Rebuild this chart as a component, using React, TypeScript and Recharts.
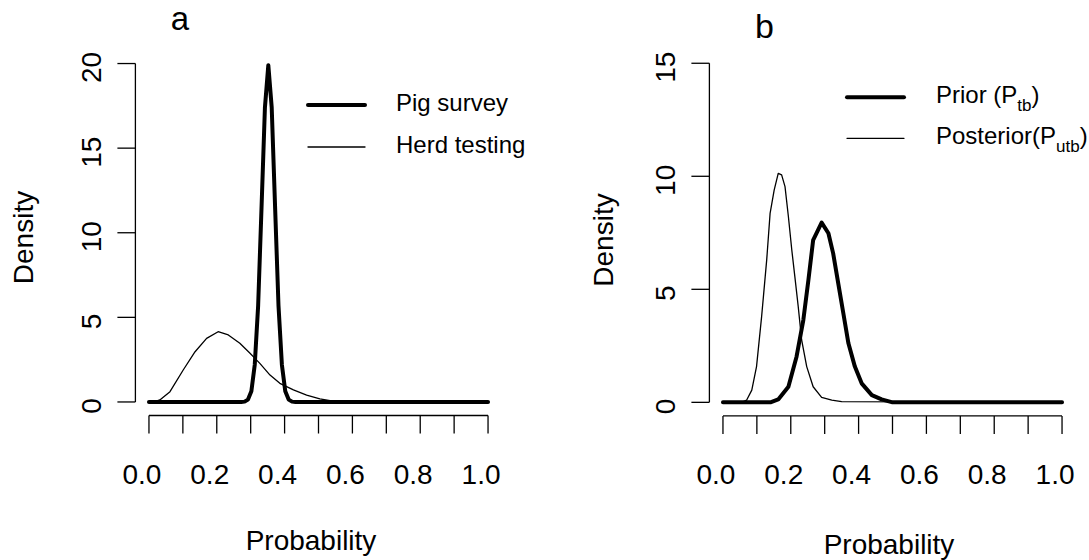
import { LineChart, Line, XAxis, YAxis, ReferenceLine, Legend } from "recharts";

const FONT = '"Liberation Sans", Arial, Helvetica, sans-serif';

// shared x axis
const X_TICKS = [0, 0.1, 0.2, 0.3, 0.4, 0.5, 0.6, 0.7, 0.8, 0.9, 1.0];
const X_TICK_LABELS = ["0.0", "", "0.2", "", "0.4", "", "0.6", "", "0.8", "", "1.0"];

// panel a
const A_Y_TICKS = [0, 5, 10, 15, 20];
const PIG_PROB = [0, 0.272, 0.282, 0.292, 0.302, 0.312, 0.322, 0.332, 0.342, 0.352, 0.362, 0.372, 0.382, 0.392, 0.402, 0.412, 0.422, 0.432, 1.0];
const PIG_DENSITY = [0, 0, 0.02, 0.14, 0.63, 2.2, 5.7, 11.5, 17.4, 19.9, 17.4, 11.5, 5.7, 2.2, 0.63, 0.14, 0.02, 0, 0];
const HERD_PROB = [0, 0.015, 0.032, 0.062, 0.101, 0.136, 0.17, 0.204, 0.234, 0.268, 0.298, 0.327, 0.357, 0.386, 0.426, 0.465, 0.504, 0.534, 0.57, 1.0];
const HERD_DENSITY = [0, 0.01, 0.12, 0.61, 1.89, 2.97, 3.76, 4.15, 3.96, 3.47, 2.88, 2.28, 1.59, 1.1, 0.71, 0.41, 0.18, 0.08, 0.01, 0];

// panel b
const B_Y_TICKS = [0, 5, 10, 15];
const PRIOR_PROB = [0, 0.14, 0.163, 0.193, 0.217, 0.237, 0.252, 0.266, 0.291, 0.311, 0.325, 0.34, 0.355, 0.37, 0.389, 0.409, 0.439, 0.468, 0.5, 1.0];
const PRIOR_DENSITY = [0, 0, 0.13, 0.69, 2.02, 3.64, 5.41, 7.18, 7.95, 7.48, 6.59, 5.26, 3.94, 2.61, 1.58, 0.84, 0.32, 0.13, 0, 0];
const POST_PROB = [0, 0.055, 0.07, 0.085, 0.099, 0.114, 0.129, 0.139, 0.151, 0.163, 0.173, 0.183, 0.193, 0.203, 0.212, 0.222, 0.232, 0.247, 0.266, 0.291, 0.321, 0.35, 1.0];
const POST_DENSITY = [0, 0, 0.1, 0.54, 1.58, 3.79, 6.3, 8.36, 9.39, 10.13, 10.06, 9.54, 8.21, 6.74, 5.56, 4.23, 2.76, 1.58, 0.69, 0.22, 0.1, 0.03, 0];

const toPoints = (xs: number[], ys: number[]) => xs.map((x, i) => ({ x, y: ys[i] }));

const THICK = 4;
const THIN = 1.3;

const XTick = (props: any) => {
  const { x, y, payload } = props;
  const label = X_TICK_LABELS[X_TICKS.indexOf(payload.value)];
  if (!label) return null;
  return (
    <text x={x - 7} y={y + 48.5} textAnchor="middle" fontSize={28} fontFamily={FONT} fill="#000">
      {label}
    </text>
  );
};

const YTick = (props: any) => {
  const { x, y, payload } = props;
  const bx = x - 14;
  const cy = y + 4;
  return (
    <text
      x={bx}
      y={cy}
      transform={`rotate(-90 ${bx} ${cy})`}
      textAnchor="middle"
      fontSize={28}
      fontFamily={FONT}
      fill="#000"
    >
      {payload.value}
    </text>
  );
};

interface LegendItem {
  label: string;
  sub?: string;
  tail?: string;
  strokeWidth: number;
  lineY: number;
  textY: number;
}

function LegendBox({ items, x1, x2, textX }: { items: LegendItem[]; x1: number; x2: number; textX: number }) {
  return (
    <svg width={260} height={90} style={{ overflow: "visible", display: "block" }}>
      {items.map((it) => (
        <g key={it.label}>
          <line x1={x1} x2={x2} y1={it.lineY} y2={it.lineY} stroke="#000" strokeWidth={it.strokeWidth} strokeLinecap="round" />
          <text x={textX} y={it.textY} fontSize={24} fontFamily={FONT} fill="#000">
            {it.label}
            {it.sub ? (
              <tspan dy={8} fontSize={17}>
                {it.sub}
              </tspan>
            ) : null}
            {it.tail ? <tspan dy={-8}>{it.tail}</tspan> : null}
          </text>
        </g>
      ))}
    </svg>
  );
}

interface Series {
  name: string;
  data: { x: number; y: number }[];
  strokeWidth: number;
}

function Panel(props: {
  left: number;
  width: number;
  margin: { top: number; right: number; bottom: number; left: number };
  yTicks: number[];
  series: Series[];
  legendLeft: number;
  legendTop: number;
  legend: React.ReactNode;
}) {
  const { left, width, margin, yTicks, series, legendLeft, legendTop, legend } = props;
  const yMax = yTicks[yTicks.length - 1];
  const pad = yMax * 0.04;
  const tickLine = { stroke: "#000", strokeWidth: 1.3 };
  return (
    <div style={{ position: "absolute", left, top: 0 }}>
      <LineChart width={width} height={560} margin={margin}>
        <XAxis
          type="number"
          dataKey="x"
          domain={[-0.04, 1.04]}
          ticks={X_TICKS}
          interval={0}
          axisLine={false}
          tickLine={tickLine}
          tickSize={18}
          tick={(p: any) => <XTick {...p} />}
          height={60}
          allowDataOverflow
        />
        <YAxis
          type="number"
          domain={[-pad, yMax + pad]}
          ticks={yTicks}
          interval={0}
          axisLine={false}
          tickLine={tickLine}
          tickSize={18}
          tick={(p: any) => <YTick {...p} />}
          width={60}
          allowDataOverflow
        />
        <ReferenceLine
          segment={[{ x: 0, y: -pad }, { x: 1, y: -pad }]}
          stroke="#000"
          strokeWidth={1.3}
          ifOverflow="visible"
        />
        <ReferenceLine
          segment={[{ x: -0.04, y: 0 }, { x: -0.04, y: yMax }]}
          stroke="#000"
          strokeWidth={1.3}
          ifOverflow="visible"
        />
        {series.map((s) => (
          <Line
            key={s.name}
            name={s.name}
            data={s.data}
            dataKey="y"
            type="linear"
            stroke="#000"
            strokeWidth={s.strokeWidth}
            strokeLinecap="round"
            strokeLinejoin="round"
            dot={false}
            activeDot={false}
            isAnimationActive={false}
          />
        ))}
        <Legend
          layout="vertical"
          align="center"
          verticalAlign="middle"
          wrapperStyle={{ left: legendLeft, top: legendTop, width: 260, height: 90 }}
          content={() => legend}
        />
      </LineChart>
    </div>
  );
}

export default function App() {
  const seriesA: Series[] = [
    { name: "Herd testing", data: toPoints(HERD_PROB, HERD_DENSITY), strokeWidth: THIN },
    { name: "Pig survey", data: toPoints(PIG_PROB, PIG_DENSITY), strokeWidth: THICK },
  ];
  const seriesB: Series[] = [
    { name: "Posterior", data: toPoints(POST_PROB, POST_DENSITY), strokeWidth: THIN },
    { name: "Prior", data: toPoints(PRIOR_PROB, PRIOR_DENSITY), strokeWidth: THICK },
  ];

  const legendA = (
    <LegendBox
      x1={8}
      x2={65}
      textX={96}
      items={[
        { label: "Pig survey", strokeWidth: THICK, lineY: 25, textY: 31 },
        { label: "Herd testing", strokeWidth: THIN, lineY: 67, textY: 72.5 },
      ]}
    />
  );
  const legendB = (
    <LegendBox
      x1={7}
      x2={64}
      textX={96}
      items={[
        { label: "Prior (P", sub: "tb", tail: ")", strokeWidth: THICK, lineY: 17.3, textY: 23.3 },
        { label: "Posterior(P", sub: "utb", tail: ")", strokeWidth: THIN, lineY: 58.3, textY: 64 },
      ]}
    />
  );

  return (
    <div style={{ position: "absolute", left: 0, top: 0, width: 1089, height: 560, background: "#fff", overflow: "hidden" }}>
      <Panel
        left={0}
        width={545}
        margin={{ top: 50, right: 43.4, bottom: 84.5, left: 75.4 }}
        yTicks={A_Y_TICKS}
        series={seriesA}
        legendLeft={300}
        legendTop={80}
        legend={legendA}
      />
      <Panel
        left={545}
        width={544}
        margin={{ top: 49.7, right: 13.4, bottom: 84.1, left: 104.4 }}
        yTicks={B_Y_TICKS}
        series={seriesB}
        legendLeft={295}
        legendTop={80}
        legend={legendB}
      />
      <svg width={1089} height={560} style={{ position: "absolute", left: 0, top: 0, pointerEvents: "none" }}>
        <g fontFamily={FONT} fill="#000">
          <text x={180} y={30} fontSize={33} textAnchor="middle">a</text>
          <text x={764.5} y={38} fontSize={34} textAnchor="middle">b</text>
          <text x={33} y={237.5} fontSize={28} textAnchor="middle" transform="rotate(-90 33 237.5)">Density</text>
          <text x={613} y={240} fontSize={28} textAnchor="middle" transform="rotate(-90 613 240)">Density</text>
          <text x={311} y={550} fontSize={28} textAnchor="middle">Probability</text>
          <text x={889} y={554} fontSize={28} textAnchor="middle">Probability</text>
        </g>
      </svg>
    </div>
  );
}
